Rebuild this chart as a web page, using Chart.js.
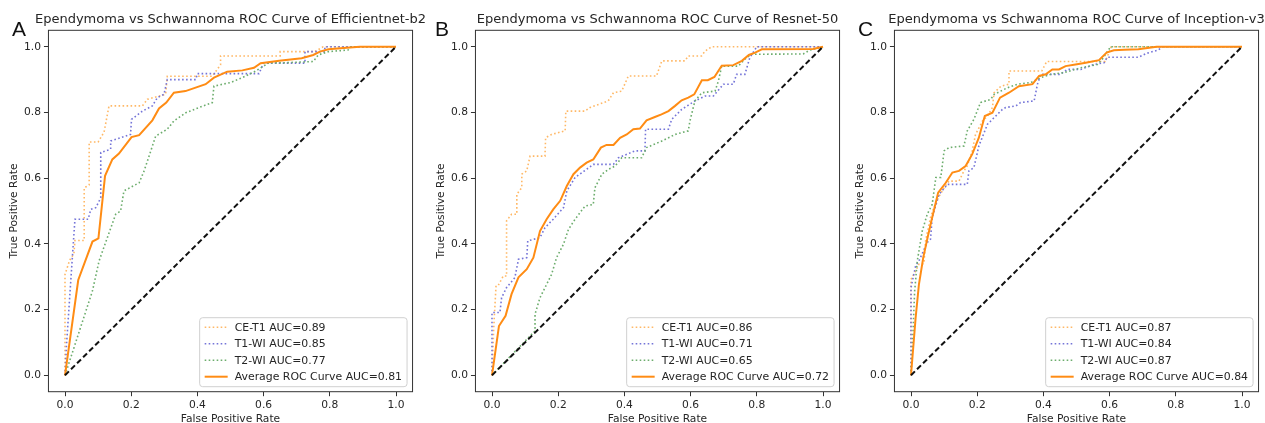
<!DOCTYPE html>
<html><head><meta charset="utf-8">
<script src="https://cdn.jsdelivr.net/npm/chart.js@4.4.1/dist/chart.umd.min.js"></script>
<style>
html,body{margin:0;padding:0;background:#fff;overflow:hidden;width:1265px;height:423px;position:relative;}
canvas{position:absolute;top:0;}
</style></head><body>
<canvas id="cA" width="461" height="440" style="left:0px"></canvas>
<canvas id="cB" width="461" height="440" style="left:427px"></canvas>
<canvas id="cC" width="461" height="440" style="left:846px"></canvas>
<script>
// ---------- tick values ----------
const xTickValues = [0, 0.2, 0.4, 0.6, 0.8, 1.0];
const yTickValues = [0, 0.2, 0.4, 0.6, 0.8, 1.0];
const diagX = [0, 1];
const diagY = [0, 1];

// ---------- Panel A : Efficientnet-b2 ----------
const A_ce_x = [0, 0, 0.014, 0.027, 0.030, 0.058, 0.058, 0.073, 0.073, 0.100, 0.118, 0.133, 0.234, 0.249, 0.284, 0.304, 0.309, 0.445, 0.470, 0.470, 0.650, 0.650, 0.755, 0.780, 1.0];
const A_ce_y = [0, 0.307, 0.35, 0.37, 0.41, 0.41, 0.57, 0.58, 0.71, 0.71, 0.74, 0.82, 0.82, 0.84, 0.85, 0.855, 0.91, 0.91, 0.945, 0.972, 0.972, 0.985, 0.985, 1.0, 1.0];
const A_t1_x = [0, 0.005, 0.015, 0.025, 0.030, 0.070, 0.078, 0.093, 0.108, 0.108, 0.138, 0.138, 0.183, 0.198, 0.201, 0.234, 0.264, 0.279, 0.299, 0.309, 0.395, 0.400, 0.586, 0.600, 0.725, 0.725, 0.785, 0.785, 1.0];
const A_t1_y = [0, 0.10, 0.25, 0.40, 0.475, 0.475, 0.505, 0.51, 0.54, 0.678, 0.688, 0.713, 0.728, 0.733, 0.779, 0.804, 0.82, 0.845, 0.855, 0.90, 0.90, 0.918, 0.918, 0.95, 0.95, 0.985, 0.985, 1.0, 1.0];
const A_t2_x = [0, 0.083, 0.103, 0.128, 0.153, 0.168, 0.178, 0.224, 0.239, 0.249, 0.274, 0.309, 0.329, 0.365, 0.405, 0.445, 0.450, 0.500, 0.536, 0.576, 0.616, 0.660, 0.750, 0.765, 0.795, 0.855, 0.865, 1.0];
const A_t2_y = [0, 0.257, 0.348, 0.419, 0.49, 0.50, 0.561, 0.586, 0.622, 0.652, 0.728, 0.749, 0.774, 0.799, 0.815, 0.830, 0.880, 0.891, 0.906, 0.926, 0.951, 0.951, 0.955, 0.975, 0.985, 0.99, 1.0, 1.0];
const A_avg_x = [0, 0.040, 0.083, 0.101, 0.121, 0.143, 0.163, 0.201, 0.224, 0.264, 0.284, 0.306, 0.329, 0.364, 0.425, 0.450, 0.490, 0.536, 0.571, 0.591, 0.647, 0.715, 0.750, 0.770, 0.796, 0.851, 0.891, 1.0];
const A_avg_y = [0, 0.290, 0.407, 0.417, 0.607, 0.657, 0.675, 0.725, 0.731, 0.776, 0.812, 0.830, 0.860, 0.865, 0.886, 0.906, 0.924, 0.928, 0.936, 0.950, 0.957, 0.965, 0.975, 0.985, 0.992, 0.997, 1.0, 1.0];
const A_labels = ['CE-T1 AUC=0.89', 'T1-WI AUC=0.85', 'T2-WI AUC=0.77', 'Average ROC Curve AUC=0.81'];

// ---------- Panel B : Resnet-50 ----------
const B_ce_x = [0, 0.005, 0.012, 0.017, 0.034, 0.044, 0.044, 0.059, 0.075, 0.075, 0.090, 0.090, 0.105, 0.115, 0.160, 0.162, 0.180, 0.221, 0.223, 0.281, 0.296, 0.351, 0.367, 0.392, 0.412, 0.497, 0.513, 0.583, 0.593, 0.633, 0.644, 0.664, 1.0];
const B_ce_y = [0, 0.14, 0.27, 0.27, 0.302, 0.302, 0.470, 0.49, 0.49, 0.551, 0.571, 0.612, 0.622, 0.667, 0.667, 0.723, 0.733, 0.744, 0.804, 0.804, 0.815, 0.835, 0.860, 0.865, 0.911, 0.911, 0.957, 0.957, 0.972, 0.972, 0.987, 1.0, 1.0];
const B_t1_x = [0, 0, 0.024, 0.029, 0.044, 0.069, 0.080, 0.105, 0.108, 0.145, 0.160, 0.185, 0.216, 0.226, 0.251, 0.286, 0.306, 0.367, 0.382, 0.432, 0.462, 0.464, 0.533, 0.543, 0.573, 0.613, 0.644, 0.669, 0.699, 0.729, 0.739, 0.764, 0.779, 0.800, 1.0];
const B_t1_y = [0, 0.191, 0.191, 0.236, 0.267, 0.297, 0.353, 0.358, 0.409, 0.419, 0.449, 0.475, 0.510, 0.561, 0.602, 0.627, 0.642, 0.642, 0.662, 0.683, 0.683, 0.749, 0.749, 0.779, 0.809, 0.835, 0.850, 0.850, 0.886, 0.886, 0.916, 0.916, 0.967, 1.0, 1.0];
const B_t2_x = [0, 0.130, 0.130, 0.145, 0.180, 0.195, 0.216, 0.231, 0.251, 0.281, 0.306, 0.311, 0.332, 0.352, 0.372, 0.392, 0.452, 0.467, 0.513, 0.553, 0.593, 0.598, 0.613, 0.634, 0.674, 0.684, 0.694, 0.744, 0.764, 0.784, 0.940, 0.961, 1.0];
const B_t2_y = [0, 0.135, 0.186, 0.236, 0.307, 0.358, 0.399, 0.444, 0.475, 0.515, 0.520, 0.571, 0.612, 0.627, 0.637, 0.662, 0.662, 0.693, 0.713, 0.733, 0.744, 0.774, 0.835, 0.860, 0.865, 0.896, 0.941, 0.941, 0.962, 0.977, 0.978, 0.99, 1.0];
const B_avg_x = [0, 0.021, 0.041, 0.059, 0.080, 0.105, 0.125, 0.145, 0.165, 0.185, 0.206, 0.226, 0.246, 0.266, 0.286, 0.306, 0.329, 0.346, 0.367, 0.387, 0.407, 0.427, 0.447, 0.467, 0.492, 0.512, 0.533, 0.553, 0.573, 0.593, 0.611, 0.634, 0.652, 0.672, 0.694, 0.729, 0.755, 0.776, 0.795, 0.815, 0.970, 1.0];
const B_avg_y = [0, 0.150, 0.181, 0.247, 0.298, 0.323, 0.358, 0.439, 0.475, 0.505, 0.531, 0.576, 0.612, 0.632, 0.647, 0.657, 0.693, 0.701, 0.701, 0.723, 0.733, 0.749, 0.751, 0.776, 0.786, 0.794, 0.804, 0.820, 0.837, 0.845, 0.855, 0.898, 0.898, 0.908, 0.942, 0.944, 0.957, 0.975, 0.982, 0.992, 0.993, 1.0];
const B_labels = ['CE-T1 AUC=0.86', 'T1-WI AUC=0.71', 'T2-WI AUC=0.65', 'Average ROC Curve AUC=0.72'];

// ---------- Panel C : Inception-v3 ----------
const C_ce_x = [0, 0, 0.014, 0.024, 0.039, 0.044, 0.059, 0.069, 0.080, 0.100, 0.115, 0.145, 0.160, 0.170, 0.185, 0.195, 0.216, 0.231, 0.246, 0.251, 0.272, 0.296, 0.296, 0.395, 0.410, 0.587, 0.595, 0.605, 1.0];
const C_ce_y = [0, 0.292, 0.318, 0.338, 0.340, 0.409, 0.480, 0.510, 0.536, 0.571, 0.591, 0.591, 0.622, 0.637, 0.683, 0.733, 0.774, 0.789, 0.815, 0.860, 0.880, 0.886, 0.926, 0.926, 0.955, 0.955, 0.975, 1.0, 1.0];
const C_t1_x = [0, 0, 0.014, 0.024, 0.049, 0.059, 0.064, 0.085, 0.110, 0.170, 0.175, 0.190, 0.205, 0.231, 0.251, 0.276, 0.286, 0.317, 0.331, 0.372, 0.382, 0.392, 0.452, 0.472, 0.513, 0.553, 0.583, 0.593, 0.687, 0.712, 0.747, 0.760, 1.0];
const C_t1_y = [0, 0.267, 0.333, 0.348, 0.404, 0.414, 0.480, 0.551, 0.581, 0.581, 0.622, 0.632, 0.698, 0.764, 0.784, 0.809, 0.815, 0.820, 0.830, 0.835, 0.886, 0.916, 0.916, 0.931, 0.931, 0.946, 0.951, 0.968, 0.968, 0.980, 0.99, 1.0, 1.0];
const C_t2_x = [0, 0.004, 0.011, 0.019, 0.034, 0.049, 0.064, 0.075, 0.090, 0.100, 0.115, 0.160, 0.170, 0.190, 0.210, 0.241, 0.251, 0.291, 0.322, 0.362, 0.392, 0.422, 0.462, 0.513, 0.563, 0.578, 0.588, 0.603, 1.0];
const C_t2_y = [0, 0.08, 0.256, 0.348, 0.439, 0.490, 0.520, 0.602, 0.602, 0.683, 0.693, 0.698, 0.744, 0.779, 0.830, 0.840, 0.855, 0.875, 0.886, 0.891, 0.906, 0.916, 0.921, 0.936, 0.946, 0.962, 0.977, 1.0, 1.0];
const C_avg_x = [0, 0.014, 0.024, 0.037, 0.049, 0.064, 0.082, 0.105, 0.125, 0.145, 0.165, 0.185, 0.205, 0.223, 0.246, 0.269, 0.296, 0.326, 0.367, 0.387, 0.407, 0.427, 0.447, 0.467, 0.497, 0.528, 0.568, 0.591, 0.613, 0.644, 0.687, 0.742, 1.0];
const C_avg_y = [0, 0.175, 0.277, 0.358, 0.414, 0.480, 0.556, 0.586, 0.617, 0.622, 0.637, 0.673, 0.723, 0.789, 0.799, 0.845, 0.860, 0.880, 0.886, 0.911, 0.916, 0.931, 0.931, 0.941, 0.946, 0.951, 0.959, 0.982, 0.989, 0.991, 0.992, 1.0, 1.0];
const C_labels = ['CE-T1 AUC=0.87', 'T1-WI AUC=0.84', 'T2-WI AUC=0.87', 'Average ROC Curve AUC=0.84'];

const titleA = 'Ependymoma vs Schwannoma ROC Curve of Efficientnet-b2';
const titleB = 'Ependymoma vs Schwannoma ROC Curve of Resnet-50';
const titleC = 'Ependymoma vs Schwannoma ROC Curve of Inception-v3';

// ---------- styling ----------
const FONT = 'DejaVu Sans';
const TXT = '#262626';
const FS = 10.7;
const LEG_FS = 10.9;
const COL_CE = '#ffb866';
const COL_T1 = '#7474d8';
const COL_T2 = '#6dad6d';
const COL_AVG = '#ff8c14';

function pts(xs, ys) { return xs.map((x, i) => ({ x: x, y: ys[i] })); }

const framePlugin = {
  id: 'frame',
  afterDatasetsDraw(chart) {
    const { ctx, chartArea: a } = chart;
    ctx.save();
    ctx.strokeStyle = '#333';
    ctx.lineWidth = 1;
    ctx.setLineDash([]);
    ctx.strokeRect(a.left, a.top, a.right - a.left, a.bottom - a.top);
    ctx.restore();
  }
};

const rocLegend = {
  id: 'rocLegend',
  afterDraw(chart) {
    const { ctx, chartArea: a } = chart;
    const items = chart.data.datasets.filter(d => d.label).slice().reverse();
    ctx.save();
    ctx.font = LEG_FS + 'px "' + FONT + '"';
    const tw = Math.max(...items.map(d => ctx.measureText(d.label).width));
    const w = 5 + 23 + 7 + tw + 5;
    const h = 69;
    const right = a.right - 5.5, bottom = a.bottom - 5;
    const left = right - w, top = bottom - h;
    ctx.beginPath();
    if (ctx.roundRect) ctx.roundRect(left, top, w, h, 3); else ctx.rect(left, top, w, h);
    ctx.fillStyle = 'rgba(255,255,255,0.85)';
    ctx.fill();
    ctx.strokeStyle = '#d0d0d0';
    ctx.lineWidth = 1;
    ctx.stroke();
    items.forEach((d, i) => {
      const cy = top + 9.5 + i * 16.5;
      ctx.beginPath();
      ctx.setLineDash(d.borderDash || []);
      ctx.strokeStyle = d.borderColor;
      ctx.lineWidth = d.borderWidth;
      ctx.moveTo(left + 5, cy);
      ctx.lineTo(left + 28, cy);
      ctx.stroke();
      ctx.setLineDash([]);
      ctx.fillStyle = TXT;
      ctx.textBaseline = 'middle';
      ctx.textAlign = 'left';
      ctx.fillText(d.label, left + 35, cy + 0.5);
    });
    ctx.restore();
  }
};

const titleLetterPlugin = {
  id: 'panelText',
  afterDraw(chart, args, opts) {
    const { ctx, chartArea: a } = chart;
    ctx.save();
    ctx.font = '13px "' + FONT + '"';
    ctx.fillStyle = TXT;
    ctx.textBaseline = 'middle';
    ctx.textAlign = 'center';
    ctx.fillText(opts.title, (a.left + a.right) / 2, 20);
    ctx.font = '21px "Liberation Sans", Arial, sans-serif';
    ctx.fillStyle = '#111';
    ctx.textBaseline = 'alphabetic';
    ctx.textAlign = 'left';
    ctx.fillText(opts.letter, opts.x, 36);
    ctx.restore();
  }
};

function makeChart(id, title, letter, letterX, labels, ce, t1, t2, avg) {
  const dotted = [1.6, 2.4];
  const datasets = [
    { data: pts(diagX, diagY), borderColor: '#111', borderWidth: 2, borderDash: [5.5, 3] },
    { label: labels[3], data: pts(avg[0], avg[1]), borderColor: COL_AVG, borderWidth: 2 },
    { label: labels[2], data: pts(t2[0], t2[1]), borderColor: COL_T2, borderWidth: 1.6, borderDash: dotted },
    { label: labels[1], data: pts(t1[0], t1[1]), borderColor: COL_T1, borderWidth: 1.6, borderDash: dotted },
    { label: labels[0], data: pts(ce[0], ce[1]), borderColor: COL_CE, borderWidth: 1.6, borderDash: dotted }
  ];
  datasets.forEach(d => { d.pointRadius = 0; d.tension = 0; d.fill = false; d.borderCapStyle = 'butt'; d.borderJoinStyle = 'miter'; });
  const tickFont = { family: FONT, size: FS };
  return new Chart(document.getElementById(id), {
    type: 'line',
    data: { datasets: datasets },
    options: {
      responsive: false,
      animation: false,
      devicePixelRatio: 1,
      layout: { padding: { left: 0, right: 48.45, top: 30.3, bottom: 0 } },
      plugins: {
        legend: { display: false },
        tooltip: { enabled: false },
        title: { display: false },
        panelText: { title: title, letter: letter, x: letterX }
      },
      scales: {
        x: {
          type: 'linear', min: -0.05, max: 1.05,
          afterBuildTicks: s => { s.ticks = xTickValues.map(v => ({ value: v })); },
          afterFit: s => { s.height = 48.3; },
          ticks: { color: TXT, font: tickFont, padding: 2.5, maxRotation: 0, autoSkip: false, callback: v => Number(v).toFixed(1) },
          grid: { display: true, drawOnChartArea: false, drawTicks: true, tickLength: 4.5, color: '#333', tickColor: '#333' },
          border: { display: false },
          title: { display: true, text: 'False Positive Rate', color: TXT, font: tickFont, padding: { top: 0, bottom: 14.6 } }
        },
        y: {
          type: 'linear', min: -0.05, max: 1.05,
          afterBuildTicks: s => { s.ticks = yTickValues.map(v => ({ value: v })); },
          afterFit: s => { s.width = 48.45; },
          ticks: { color: TXT, font: tickFont, padding: 3, autoSkip: false, callback: v => Number(v).toFixed(1) },
          grid: { display: true, drawOnChartArea: false, drawTicks: true, tickLength: 4.5, color: '#333', tickColor: '#333' },
          border: { display: false },
          title: { display: true, text: 'True Positive Rate', color: TXT, font: tickFont, padding: { top: 8.1, bottom: 0 } }
        }
      }
    },
    plugins: [framePlugin, rocLegend, titleLetterPlugin]
  });
}

makeChart('cA', titleA, 'A', 12, A_labels, [A_ce_x, A_ce_y], [A_t1_x, A_t1_y], [A_t2_x, A_t2_y], [A_avg_x, A_avg_y]);
makeChart('cB', titleB, 'B', 8, B_labels, [B_ce_x, B_ce_y], [B_t1_x, B_t1_y], [B_t2_x, B_t2_y], [B_avg_x, B_avg_y]);
makeChart('cC', titleC, 'C', 12, C_labels, [C_ce_x, C_ce_y], [C_t1_x, C_t1_y], [C_t2_x, C_t2_y], [C_avg_x, C_avg_y]);
</script>
</body></html>
